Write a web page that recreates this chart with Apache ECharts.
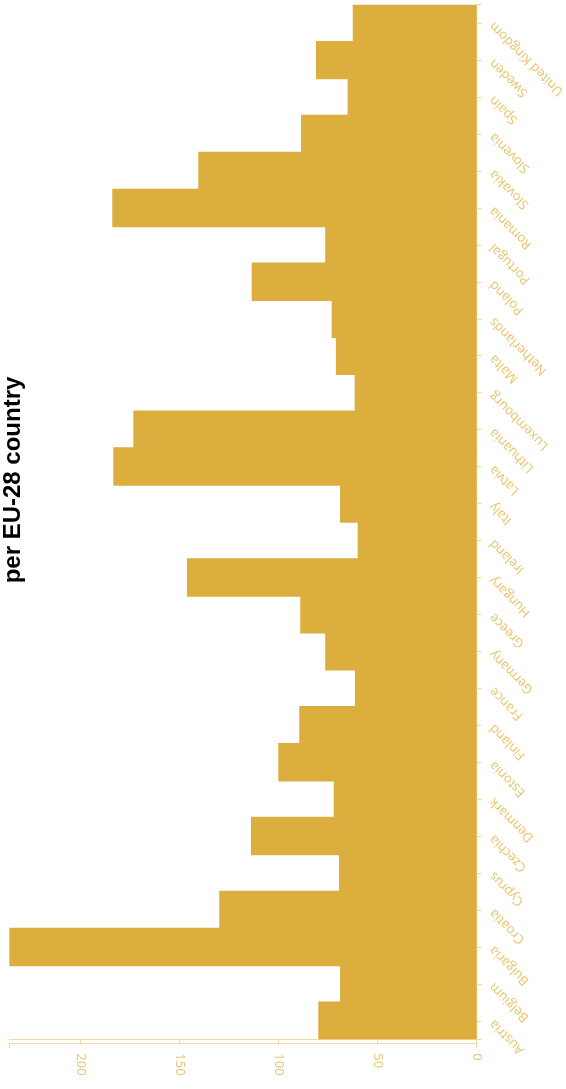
<!DOCTYPE html>
<html>
<head>
<meta charset="utf-8">
<script src="https://cdn.jsdelivr.net/npm/echarts@6/dist/echarts.min.js"></script>
<style>
html,body{margin:0;padding:0;background:#fff;}
#chart{width:566px;height:1089px;}
</style>
</head>
<body>
<div id="chart"></div>
<script>
const countries = ["Austria","Belgium","Bulgaria","Croatia","Cyprus","Czechia","Denmark","Estonia","Finland","France","Germany","Greece","Hungary","Ireland","Italy","Latvia","Lithuania","Luxembourg","Malta","Netherlands","Poland","Portugal","Romania","Slovakia","Slovenia","Spain","Sweden","United Kingdom"];
const values = [80.0,69.0,236.0,130.0,69.5,114.0,72.2,100.2,89.6,61.5,76.5,89.1,146.3,60.1,69.0,183.5,173.4,61.6,71.1,73.2,113.6,76.5,184.0,140.6,88.7,65.2,81.2,62.6];
const titleText = "per EU-28 country";
const tickStep = 50;

const axisCol = '#f1d9a0';
const labelCol = '#e8c46a';
const barCol = '#dcae3d';
const maxVal = Math.max(...values);

const chart = echarts.init(document.getElementById('chart'), null, {renderer:'canvas'});
const grid = {left:9.3, right:89.3, top:4.7, bottom:49.7};
chart.setOption({
  animation:false,
  grid: grid,
  graphic:[{
    type:'text', x:13, y:480, rotation:Math.PI/2,
    style:{text:titleText, fill:'#000', font:'bold 24px "Liberation Sans", Arial, sans-serif', textAlign:'center', textVerticalAlign:'middle'}
  }],
  xAxis:[{
    type:'value', inverse:true, min:0, max:maxVal, interval:tickStep, position:'bottom', offset:4,
    axisLine:{show:true, lineStyle:{color:axisCol, width:1}},
    axisTick:{show:true, length:5, lineStyle:{color:axisCol}},
    splitLine:{show:false}, splitArea:{show:false},
    axisLabel:{show:true, rotate:-90, margin:10, color:labelCol, fontFamily:'"Open Sans", sans-serif', fontSize:13, align:'left', verticalAlign:'middle',
      showMaxLabel:false}
  },{
    type:'value', inverse:true, min:0, max:maxVal, interval:maxVal, position:'bottom', offset:4,
    axisLine:{show:true, lineStyle:{color:axisCol, width:1}},
    axisTick:{show:true, length:5, lineStyle:{color:axisCol}},
    splitLine:{show:false}, splitArea:{show:false}, axisLabel:{show:false}
  }],
  yAxis:[{
    type:'category', data:countries, position:'right', offset:4,
    axisLine:{show:true, lineStyle:{color:axisCol, width:1}},
    axisTick:{show:true, alignWithLabel:true, length:5, lineStyle:{color:axisCol}},
    splitLine:{show:false}, splitArea:{show:false},
    axisLabel:{show:false}
  },{
    type:'value', min:0, max:1, interval:1, position:'right', offset:4,
    axisLine:{show:true, lineStyle:{color:axisCol, width:1}},
    axisTick:{show:true, length:5, lineStyle:{color:axisCol}},
    splitLine:{show:false}, splitArea:{show:false}, axisLabel:{show:false}
  }],
  series:[{
    type:'bar', data:values, xAxisIndex:0, yAxisIndex:0,
    barWidth:'104%',
    itemStyle:{color:barCol, borderWidth:0}
  },{
    type:'custom', xAxisIndex:0, yAxisIndex:0, silent:true, clip:false, z:5,
    data: countries.map((c,i)=>[0,i]),
    renderItem: function(params, api){
      const i = api.value(1);
      const p = api.coord([0, i]);
      return {
        type:'text', x:p[0]+15, y:p[1]+1, rotation:Math.PI*135/180,
        style:{text:countries[i], fill:labelCol, font:'13px "Open Sans", sans-serif', textAlign:'right', textVerticalAlign:'middle'}
      };
    }
  }]
});
</script>
</body>
</html>
